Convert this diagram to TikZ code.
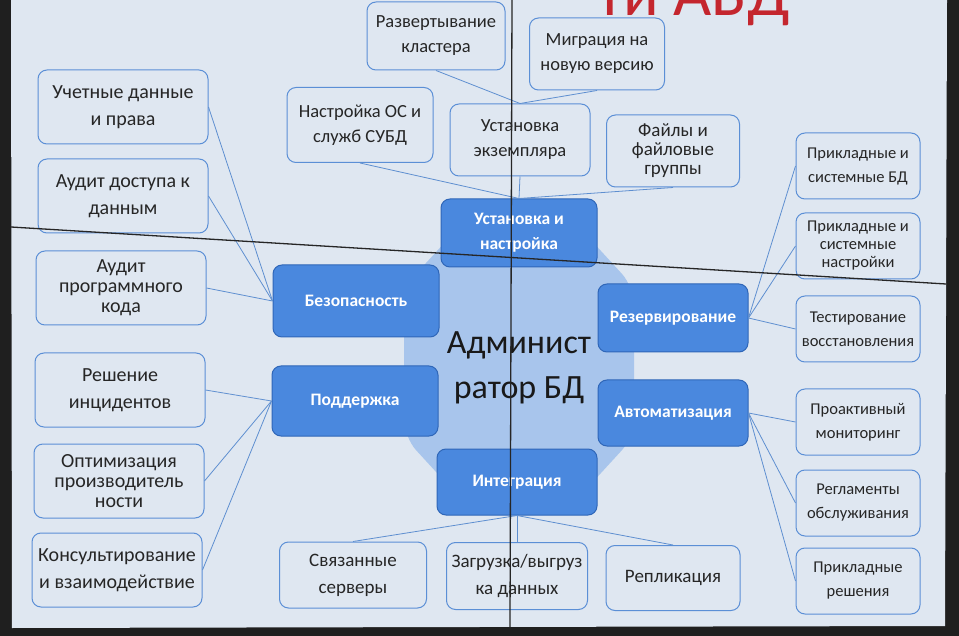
\documentclass[tikz,border=0pt]{standalone}
\usepackage{fontspec}
\setmainfont{Carlito}
\usetikzlibrary{positioning}

\definecolor{screen}{HTML}{DFE7F1}
\definecolor{leafline}{HTML}{5B8FD6}
\definecolor{catfill}{HTML}{4A88DE}
\definecolor{catline}{HTML}{2F66B8}
\definecolor{hubfill}{HTML}{A8C5EC}
\definecolor{linkblue}{HTML}{5E8FD0}
\definecolor{titlered}{HTML}{C4262E}

\begin{document}
\begin{tikzpicture}[x=1pt, y=-1pt,
  leaf/.style={draw=leafline, line width=1pt, rounded corners=9pt, fill=screen,
    align=center, text=black!85, inner sep=2pt, font=\fontsize{18.5}{25}\selectfont},
  lside/.style={leaf, minimum width=170pt, minimum height=74pt, font=\fontsize{20}{27}\selectfont},
  rside/.style={leaf, minimum width=124pt, minimum height=66pt, font=\fontsize{16.5}{24}\selectfont},
  cat/.style={draw=catline, line width=1pt, fill=catfill, rounded corners=9pt, align=center,
    text=white, minimum width=156pt, minimum height=68pt, font=\fontsize{17.5}{25}\selectfont\bfseries},
  link/.style={linkblue, line width=0.8pt}]
\useasboundingbox (0,0) rectangle (959,636);
\fill[black!88] (0,0) rectangle (959,636);
\fill[screen] (11,0) -- (947,0) -- (945,626) -- (12,628) -- cycle;

% title, cut by the top of the screen
\begin{scope}
\clip (11,0) rectangle (947,626);
\node[anchor=base east, text=titlered, font=\fontsize{66}{66}\selectfont, inner sep=0pt] (title) at (790,16) {ти АБД};
\end{scope}

% centre
\fill[hubfill, rounded corners=18pt] (459,227) -- (579,227) -- (634,287) -- (634,437)
  -- (579,497) -- (459,497) -- (404,437) -- (404,287) -- cycle;
\node[align=center, text=black!90, font=\fontsize{34}{45}\selectfont] (hub) at (519,368) {Админист\\ратор БД};

% branches
\node[cat] (setup) at (519,233) {Установка и\\настройка};
\node[cat, minimum width=166pt, minimum height=72pt] (security) at (356,301) {Безопасность};
\node[cat, minimum width=150pt] (backup) at (673,318) {Резервирование};
\node[cat, minimum width=166pt, minimum height=70pt] (support) at (355,401) {Поддержка};
\node[cat, minimum width=150pt, minimum height=66pt] (automation) at (673,413) {Автоматизация};
\node[cat, minimum width=160pt, minimum height=66pt] (integration) at (517,482) {Интеграция};

% top leaves
\node[leaf, minimum width=138pt, minimum height=68pt] (deploy) at (436,36) {Развертывание\\кластера};
\node[leaf, minimum width=135pt, minimum height=72pt] (migrate) at (597,54) {Миграция на\\новую версию};
\node[leaf, minimum width=146pt, minimum height=75pt] (ossetup) at (360,125) {Настройка ОС и\\служб СУБД};
\node[leaf, minimum width=140pt, minimum height=72pt] (instance) at (520,140) {Установка\\экземпляра};
\node[leaf, minimum width=133pt, minimum height=72pt, font=\fontsize{19}{19}\selectfont] (files) at (673,151) {Файлы и\\файловые\\группы};

% left leaves
\node[lside] (accounts) at (123,107) {Учетные данные\\и права};
\node[lside] (accessaudit) at (123,196) {Аудит доступа к\\данным};
\node[lside, font=\fontsize{20}{20}\selectfont] (codeaudit) at (121,288) {Аудит\\программного\\кода};
\node[lside] (incidents) at (120,390) {Решение\\инцидентов};
\node[lside, font=\fontsize{20}{20}\selectfont] (tuning) at (119,481) {Оптимизация\\производитель\\ности};
\node[lside] (consulting) at (117,570) {Консультирование\\и взаимодействие};

% right leaves
\node[rside] (appdb) at (858,166) {Прикладные и\\системные БД};
\node[rside, font=\fontsize{16.5}{18}\selectfont] (appsettings) at (858,246) {Прикладные и\\системные\\настройки};
\node[rside] (restoretest) at (858,329) {Тестирование\\восстановления};
\node[rside] (monitoring) at (858,422) {Проактивный\\мониторинг};
\node[rside] (maintenance) at (858,503) {Регламенты\\обслуживания};
\node[rside] (appsolutions) at (858,581) {Прикладные\\решения};

% bottom leaves
\node[leaf, minimum width=147pt, minimum height=66pt, font=\fontsize{19}{27}\selectfont] (linked) at (353,575) {Связанные\\серверы};
\node[leaf, minimum width=141pt, minimum height=67pt, font=\fontsize{19}{27}\selectfont] (loading) at (517,576) {Загрузка/выгруз\\ка данных};
\node[leaf, minimum width=134pt, minimum height=65pt, font=\fontsize{19}{27}\selectfont] (replication) at (673,578) {Репликация};

% connectors
\draw[link] (setup.north) -- (ossetup.south);
\draw[link] (setup.north) -- (instance.south);
\draw[link] (setup.north) -- (files.south);
\draw[link] (instance.north) -- (deploy.south);
\draw[link] (instance.north) -- (migrate.south);
\foreach \leafname in {accounts,accessaudit,codeaudit}
  \draw[link] (security.west) -- (\leafname.east);
\foreach \leafname in {incidents,tuning,consulting}
  \draw[link] (support.west) -- (\leafname.east);
\foreach \leafname in {appdb,appsettings,restoretest}
  \draw[link] (backup.east) -- (\leafname.west);
\foreach \leafname in {monitoring,maintenance,appsolutions}
  \draw[link] (automation.east) -- (\leafname.west);
\foreach \leafname in {linked,loading,replication}
  \draw[link] (integration.south) -- (\leafname.north);

% seams of the screen wall
\draw[black!85, line width=1.3pt] (512,0) -- (510,627);
\draw[black!85, line width=1.3pt] (11,227) -- (946,284);
\end{tikzpicture}
\end{document}
